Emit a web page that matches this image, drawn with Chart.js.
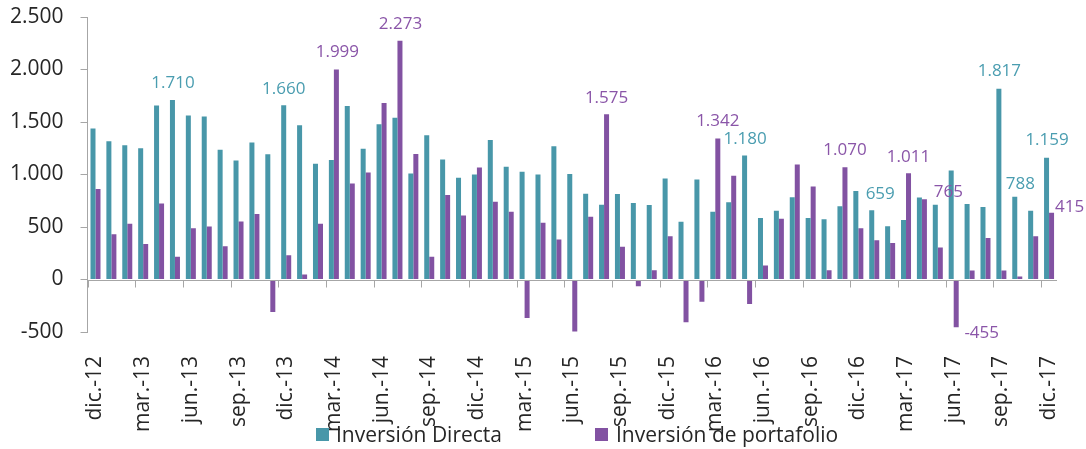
<!DOCTYPE html>
<html>
<head>
<meta charset="utf-8">
<script src="https://cdn.jsdelivr.net/npm/chart.js@4.4.1/dist/chart.umd.min.js"></script>
<style>
  html, body { margin: 0; padding: 0; background: #ffffff; }
  #wrap { position: relative; width: 1086px; height: 449px; }
  #c { position: absolute; left: 0; top: 0; }
  .leg { position: absolute; top: 424px; font-family: "Open Sans", sans-serif; font-size: 21px; line-height: 21px; color: #262626; white-space: nowrap; }
  .box { position: absolute; top: 428px; width: 13px; height: 13px; }
</style>
</head>
<body>
<div id="wrap">
  <canvas id="c" width="1086" height="449"></canvas>
  <div class="box" id="b1"></div><div class="leg" id="l1"></div>
  <div class="box" id="b2"></div><div class="leg" id="l2"></div>
</div>
<script>
// ---- data ----
const months = [
  "dic.-12","ene.-13","feb.-13","mar.-13","abr.-13","may.-13","jun.-13","jul.-13","ago.-13","sep.-13","oct.-13","nov.-13",
  "dic.-13","ene.-14","feb.-14","mar.-14","abr.-14","may.-14","jun.-14","jul.-14","ago.-14","sep.-14","oct.-14","nov.-14",
  "dic.-14","ene.-15","feb.-15","mar.-15","abr.-15","may.-15","jun.-15","jul.-15","ago.-15","sep.-15","oct.-15","nov.-15",
  "dic.-15","ene.-16","feb.-16","mar.-16","abr.-16","may.-16","jun.-16","jul.-16","ago.-16","sep.-16","oct.-16","nov.-16",
  "dic.-16","ene.-17","feb.-17","mar.-17","abr.-17","may.-17","jun.-17","jul.-17","ago.-17","sep.-17","oct.-17","nov.-17",
  "dic.-17"
];
const seriesNames = ["Inversión Directa", "Inversión de portafolio"];
const inversionDirecta = [
  1438,1316,1278,1249,1658,1710,1562,1553,1236,1134,1304,1192,
  1660,1470,1102,1137,1652,1246,1479,1540,1010,1374,1144,968,
  1000,1329,1074,1026,1000,1268,1006,816,712,815,728,709,
  962,550,952,645,735,1180,585,655,783,585,575,697,
  843,659,508,566,780,712,1038,719,690,1817,788,655,
  1159
];
const inversionPortafolio = [
  863,431,530,339,725,217,489,505,316,553,623,-310,
  230,48,530,1999,914,1019,1681,2273,1195,217,805,610,
  1067,741,645,-367,540,380,-495,597,1575,313,-64,89,
  412,-406,-211,1342,987,-233,134,578,1096,885,89,1070,
  489,374,348,1011,765,304,-455,86,396,86,29,412,
  636
];
const yTicks = [-500, 0, 500, 1000, 1500, 2000, 2500];
// annotated values: series index, category index, text
const labelSeries = [0,0,1,1,1,1,0,1,0,1,1,1,0,0,0,1];
const labelIndex  = [5,12,15,19,32,39,41,47,49,51,52,54,57,58,60,60];
const labelText   = ["1.710","1.660","1.999","2.273","1.575","1.342","1.180","1.070","659","1.011","765","-455","1.817","788","1.159","415"];

// ---- styles ----
const colors = ["#4897a9", "#8252a2"];
const labelColors = ["#4a9db0", "#8a55a8"];
const labelNudge = [[0.5,-16.5],[0,-16.5],[1,-17],[0.5,-16.7],[0,-16],[0,-17],[0.5,-16.7],[0,-16.7],
                    [8.5,-16],[0,-16.3],[24,-7],[25.5,5.7],[0.5,-17.2],[5.5,-12.6],[0.5,-17.4],[18,-5.4]];
const axisGray = "#a6a6a6";
const FONT = "'Open Sans', sans-serif";

function fmt(v) {
  const s = Math.abs(v).toString().replace(/\B(?=(\d{3})+(?!\d))/g, ".");
  return (v < 0 ? "-" : "") + s;
}

// legend (HTML)
document.getElementById("b1").style.cssText += ";left:316px;background:" + colors[0];
document.getElementById("b2").style.cssText += ";left:595px;background:" + colors[1];
const l1 = document.getElementById("l1"); l1.textContent = seriesNames[0]; l1.style.left = "336px";
const l2 = document.getElementById("l2"); l2.textContent = seriesNames[1]; l2.style.left = "616px";

const zeroAxisPlugin = {
  id: "zeroAxis",
  afterDatasetsDraw(chart) {
    const ctx = chart.ctx, xs = chart.scales.x, ys = chart.scales.y, ca = chart.chartArea;
    const y0 = Math.round(ys.getPixelForValue(0)) + 0.5;
    const half = (xs.getPixelForValue(1) - xs.getPixelForValue(0)) / 2;
    ctx.save();
    ctx.strokeStyle = axisGray;
    ctx.lineWidth = 1;
    ctx.beginPath();
    ctx.moveTo(ca.left, y0);
    ctx.lineTo(ca.right, y0);
    for (let i = 0; i < months.length; i += 3) {
      const x = Math.round(xs.getPixelForValue(i) - half) + 0.5;
      ctx.moveTo(x, y0);
      ctx.lineTo(x, y0 + 7);
    }
    ctx.stroke();
    // data labels
    ctx.font = "17px " + FONT;
    ctx.textAlign = "center";
    ctx.textBaseline = "middle";
    for (let k = 0; k < labelIndex.length; k++) {
      const el = chart.getDatasetMeta(labelSeries[k]).data[labelIndex[k]];
      ctx.fillStyle = labelColors[labelSeries[k]];
      ctx.fillText(labelText[k], el.x + labelNudge[k][0], el.y + labelNudge[k][1]);
    }
    ctx.restore();
  }
};

new Chart(document.getElementById("c"), {
  type: "bar",
  data: {
    labels: months,
    datasets: [
      { label: seriesNames[0], data: inversionDirecta, backgroundColor: colors[0], borderWidth: 0 },
      { label: seriesNames[1], data: inversionPortafolio, backgroundColor: colors[1], borderWidth: 0 }
    ]
  },
  options: {
    responsive: false,
    animation: false,
    devicePixelRatio: 1,
    layout: { padding: { left: -7, right: 29, top: 17, bottom: 1 } },
    datasets: { bar: { categoryPercentage: 0.63, barPercentage: 1.0 } },
    plugins: { legend: { display: false }, tooltip: { enabled: false } },
    scales: {
      x: {
        afterFit: function (s) { s.paddingLeft = 0; s.paddingRight = 0; },
        grid: { display: false },
        border: { display: false },
        ticks: {
          autoSkip: false,
          minRotation: 90,
          maxRotation: 90,
          padding: 16,
          color: "#262626",
          font: { family: FONT, size: 21 },
          callback: function (v, i) { return i % 3 === 0 ? months[i] : ""; }
        }
      },
      y: {
        min: -500,
        max: 2500,
        afterFit: function (s) { s.paddingTop = 0; s.paddingBottom = 0; },
        afterBuildTicks: function (axis) { axis.ticks = yTicks.map(v => ({ value: v })); },
        grid: { drawOnChartArea: false, drawTicks: true, tickLength: 7, color: axisGray },
        border: { display: true, color: axisGray },
        ticks: {
          padding: 17,
          color: "#262626",
          font: { family: FONT, size: 21 },
          callback: function (v) { return fmt(v); }
        }
      }
    }
  },
  plugins: [zeroAxisPlugin]
});
</script>
</body>
</html>
